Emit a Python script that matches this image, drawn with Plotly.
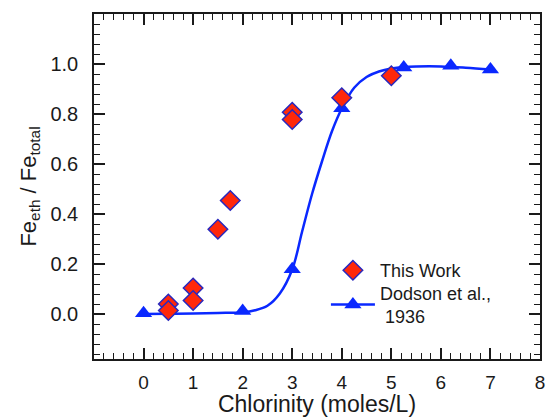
import plotly.graph_objects as go

# This Work (diamonds)
work_x = [0.5, 0.5, 1.0, 1.0, 1.5, 1.75, 3.0, 3.0, 4.0, 5.0]
work_y = [0.040, 0.014, 0.104, 0.054, 0.339, 0.454, 0.807, 0.778, 0.865, 0.953]

# Dodson et al., 1936 (triangles)
dod_x = [0.0, 2.0, 3.0, 4.0, 5.25, 6.2, 7.0]
dod_y = [0.003, 0.012, 0.179, 0.823, 0.986, 0.993, 0.978]

# Fitted curve
curve_x = [0.0, 0.5, 1.0, 1.5, 2.0, 2.25, 2.5, 2.75, 3.0, 3.2, 3.4, 3.6, 3.8, 4.0,
           4.25, 4.5, 4.75, 5.0, 5.25, 5.5, 6.0, 6.5, 7.0]
curve_y = [0.0, 0.001, 0.002, 0.004, 0.007, 0.015, 0.033, 0.082, 0.178, 0.33, 0.48,
           0.61, 0.73, 0.822, 0.905, 0.948, 0.97, 0.982, 0.988, 0.99, 0.99, 0.985, 0.978]

x_ticks = [0, 1, 2, 3, 4, 5, 6, 7, 8]
y_ticks = [0.0, 0.2, 0.4, 0.6, 0.8, 1.0]

BLUE = "rgb(10,40,255)"
RED = "rgb(255,40,10)"
EDGE = "rgb(40,40,190)"
FONT = "Liberation Sans, Arial, sans-serif"
INK = "#1a1a1a"

fig = go.Figure()
fig.add_trace(go.Scatter(x=curve_x, y=curve_y, mode="lines", line=dict(color=BLUE, width=2.5, shape="spline"),
                         showlegend=False, hoverinfo="skip"))
fig.add_trace(go.Scatter(x=dod_x, y=dod_y, mode="markers", name="Dodson et al.,<br> 1936",
                         marker=dict(symbol="triangle-up", size=15, color=BLUE, line=dict(width=0)),
                         showlegend=False))
fig.add_trace(go.Scatter(x=work_x, y=work_y, mode="markers", name="This Work", legend="legend",
                         marker=dict(symbol="diamond", size=15, color=RED, line=dict(color=EDGE, width=1.5))))
# legend entry for Dodson (line + marker)
fig.add_trace(go.Scatter(x=[None], y=[None], mode="lines+markers", name="Dodson et al.,<br> 1936",
                         legend="legend2",
                         line=dict(color=BLUE, width=2.5),
                         marker=dict(symbol="triangle-up", size=15, color=BLUE, line=dict(width=0))))

axis_common = dict(
    showline=True, linecolor=INK, linewidth=1.5, mirror="allticks",
    ticks="inside", ticklen=11, tickwidth=2, tickcolor=INK,
    showgrid=False, zeroline=False,
)

fig.update_xaxes(range=[-1, 8], tickvals=x_ticks, ticktext=[str(v) for v in x_ticks],
                 minor=dict(ticks="inside", ticklen=6, tickwidth=1, tickcolor=INK, dtick=0.2, tick0=0),
                 title=dict(text="Chlorinity (moles/L)", font=dict(family=FONT, size=23, color=INK), standoff=5),
                 tickfont=dict(family=FONT, size=19, color=INK),
                 ticklabelstandoff=5,
                 **axis_common)
fig.update_yaxes(range=[-0.18, 1.2], tickvals=y_ticks, ticktext=["%.1f" % v for v in y_ticks],
                 minor=dict(ticks="inside", ticklen=6, tickwidth=1, tickcolor=INK, dtick=0.04, tick0=0),
                 title=dict(text="Fe<sub>eth</sub> / Fe<sub>total</sub>", font=dict(family=FONT, size=22, color=INK), standoff=8),
                 tickfont=dict(family=FONT, size=20, color=INK),
                 ticklabelstandoff=10,
                 **axis_common)

leg_common = dict(xanchor="left", yanchor="top", bgcolor="rgba(0,0,0,0)",
                  font=dict(family=FONT, size=18, color=INK), itemwidth=44)
fig.update_layout(
    width=546, height=417,
    margin=dict(l=94, r=6, t=14, b=58, autoexpand=False),
    paper_bgcolor="white", plot_bgcolor="white",
    font=dict(family=FONT, color=INK),
    legend=dict(x=0.52, y=0.31, **leg_common),
    legend2=dict(x=0.52, y=0.245, **leg_common),
)

fig.write_html("out.html")
